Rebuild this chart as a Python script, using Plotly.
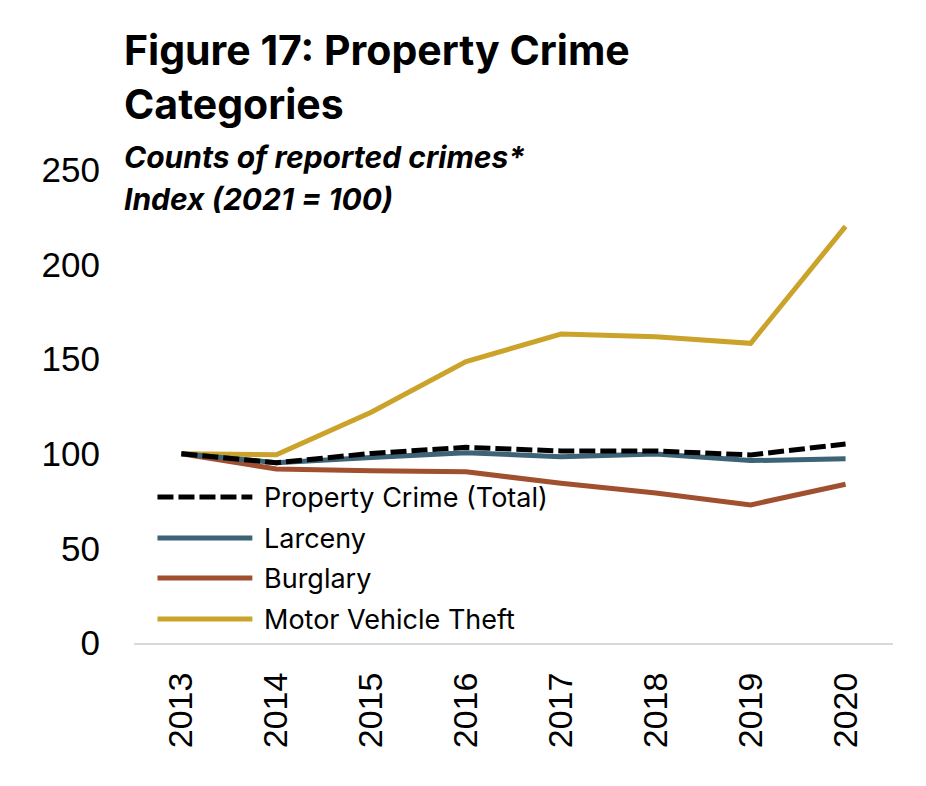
import plotly.graph_objects as go

years = ["2013", "2014", "2015", "2016", "2017", "2018", "2019", "2020"]

property_total = [100, 95.3, 100.2, 103.4, 101.5, 101.5, 99.4, 105.2]
larceny = [100, 95.3, 98.1, 100.6, 98.5, 99.9, 96.4, 97.4]
burglary = [100, 92, 91, 90.5, 84.4, 79.3, 73, 83.9]
motor_vehicle = [100, 99.5, 122, 148.7, 163.3, 161.9, 158.4, 220.2]

series_names = ["Property Crime (Total)", "Larceny", "Burglary", "Motor Vehicle Theft"]
series_colors = ["#000000", "#3c6376", "#a0502e", "#cba32a"]
series_dash = ["16px,5px", "solid", "solid", "solid"]

title_lines = ["Figure 17: Property Crime", "Categories"]
subtitle_lines = ["Counts of reported crimes*", "Index (2021 = 100)"]

text_font = "Inter, Noto Sans, sans-serif"
tick_font = "Liberation Sans, Arial, sans-serif"

fig = go.Figure()

# draw order: motor vehicle at the back, total dashed on top
draw = [
    (3, motor_vehicle),
    (2, burglary),
    (1, larceny),
    (0, property_total),
]
for idx, vals in draw:
    fig.add_trace(go.Scatter(
        x=years, y=vals, mode="lines", name=series_names[idx],
        line=dict(color=series_colors[idx], width=5, dash=series_dash[idx]),
        showlegend=False,
    ))

# page body has an 8px margin, so the figure is drawn 8px in from the window edge
body = 8
W, H = 926 - body, 786 - body

# plot area in window pixels
plot_left, plot_right, plot_top, plot_bottom = 133.5, 893.5, 170, 643


def px_x(px):
    return (px - plot_left) / (plot_right - plot_left)


def px_y(py):
    return (plot_bottom - py) / (plot_bottom - plot_top)


shapes = []
annotations = []

legend_rows = [497, 538, 578, 619]
for i, row in enumerate(legend_rows):
    shapes.append(dict(
        type="line", xref="paper", yref="paper",
        x0=px_x(157), x1=px_x(252), y0=px_y(row), y1=px_y(row),
        line=dict(color=series_colors[i], width=5, dash=series_dash[i]),
    ))
    annotations.append(dict(
        xref="paper", yref="paper", x=px_x(262), y=px_y(row),
        xanchor="left", yanchor="middle", showarrow=False,
        text=series_names[i], font=dict(family=text_font, size=27, color="#000000"),
    ))

for text, row in zip(title_lines, [50, 104]):
    annotations.append(dict(
        xref="paper", yref="paper", x=px_x(121), y=px_y(row),
        xanchor="left", yanchor="middle", showarrow=False,
        text="<b>%s</b>" % text, font=dict(family=text_font, size=41, color="#000000"),
    ))

for text, row in zip(subtitle_lines, [157, 199]):
    annotations.append(dict(
        xref="paper", yref="paper", x=px_x(121), y=px_y(row),
        xanchor="left", yanchor="middle", showarrow=False,
        text="<b><i>%s</i></b>" % text, font=dict(family=text_font, size=30, color="#000000"),
    ))

fig.update_layout(
    width=W, height=H,
    margin=dict(l=plot_left - body, r=926 - plot_right, t=plot_top - body, b=786 - plot_bottom),
    paper_bgcolor="white", plot_bgcolor="white",
    showlegend=False,
    shapes=shapes, annotations=annotations,
    xaxis=dict(
        type="category", tickangle=-90, range=[-0.5, len(years) - 0.5],
        showgrid=False, showline=True, linecolor="#d9d9d9", linewidth=2,
        ticks="", ticklabelstandoff=14,
        tickfont=dict(family=tick_font, size=34, color="#000000"),
        zeroline=False,
    ),
    yaxis=dict(
        range=[0, 250], tickvals=[0, 50, 100, 150, 200, 250],
        showgrid=False, showline=False, zeroline=False,
        ticks="", ticklabelstandoff=33,
        tickfont=dict(family=tick_font, size=35, color="#000000"),
    ),
)

fig.write_html("out.html")
